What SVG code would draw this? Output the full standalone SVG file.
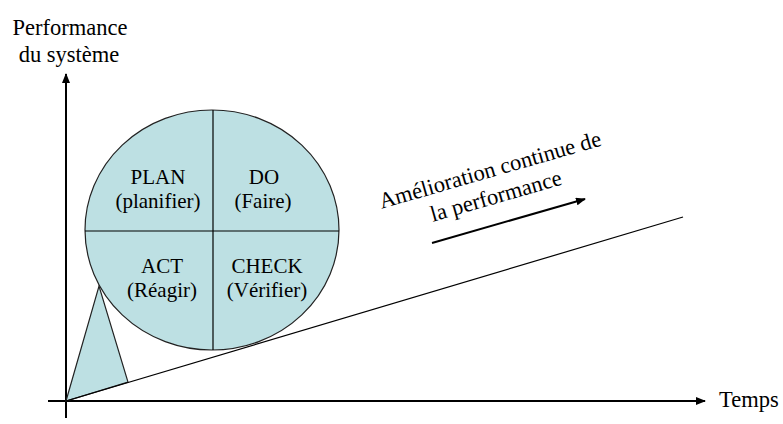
<svg xmlns="http://www.w3.org/2000/svg" width="783" height="424" viewBox="0 0 783 424">
  <style>
    text { font-family: Times, FreeSerif, "Liberation Serif", serif; fill: #000; }
    .lbl { font-size: 22.5px; }
    .cell { font-size: 21px; text-anchor: middle; }
    .shape { fill: #bde0e3; stroke: #222; stroke-width: 1.2; }
    .line { stroke: #000; fill: none; }
  </style>
  <defs>
    <marker id="arrow" markerWidth="10" markerHeight="8" refX="9" refY="4" orient="auto" markerUnits="userSpaceOnUse">
      <path d="M0,0 L10,4 L0,8 Z" fill="#000"/>
    </marker>
  </defs>
  <rect width="783" height="424" fill="#fff"/>

  <!-- axes -->
  <g id="axes">
    <line class="line" x1="66" y1="418" x2="66" y2="74" stroke-width="2" marker-end="url(#arrow)"/>
    <line class="line" x1="48" y1="401" x2="705" y2="401" stroke-width="2" marker-end="url(#arrow)"/>
    <text class="lbl" x="70" y="35" text-anchor="middle">Performance</text>
    <text class="lbl" x="69" y="62" text-anchor="middle">du système</text>
    <text class="lbl" x="719" y="407">Temps</text>
  </g>

  <!-- wedge under the wheel -->
  <g id="wedge">
    <polygon class="shape" points="66,401 99,286 128,382"/>
  </g>

  <!-- improvement ramp -->
  <g id="ramp">
    <line class="line" x1="66" y1="401" x2="683" y2="217" stroke-width="1.2"/>
  </g>

  <!-- PDCA wheel -->
  <g id="wheel">
    <ellipse class="shape" cx="212" cy="230" rx="127" ry="120"/>
    <line class="line" x1="213" y1="110" x2="213" y2="350" stroke="#222" stroke-width="1.2"/>
    <line class="line" x1="85" y1="231" x2="339" y2="231" stroke="#222" stroke-width="1.2"/>
  </g>
  <g id="plan">
    <text class="cell" x="158" y="184">PLAN</text>
    <text class="cell" x="158" y="208">(planifier)</text>
  </g>
  <g id="do">
    <text class="cell" x="264" y="184">DO</text>
    <text class="cell" x="263" y="208">(Faire)</text>
  </g>
  <g id="act">
    <text class="cell" x="162" y="273">ACT</text>
    <text class="cell" x="162" y="297">(Réagir)</text>
  </g>
  <g id="check">
    <text class="cell" x="267" y="273">CHECK</text>
    <text class="cell" x="267" y="297">(Vérifier)</text>
  </g>

  <!-- improvement annotation -->
  <g id="annotation">
    <text class="lbl" x="492" y="177" text-anchor="middle" transform="rotate(-16 492 177)">Amélioration continue de</text>
    <text class="lbl" x="498" y="203" text-anchor="middle" transform="rotate(-16 498 203)">la performance</text>
  </g>
  <g id="connectors">
    <line class="line" x1="432" y1="243" x2="585" y2="199" stroke-width="2" marker-end="url(#arrow)"/>
  </g>
</svg>
